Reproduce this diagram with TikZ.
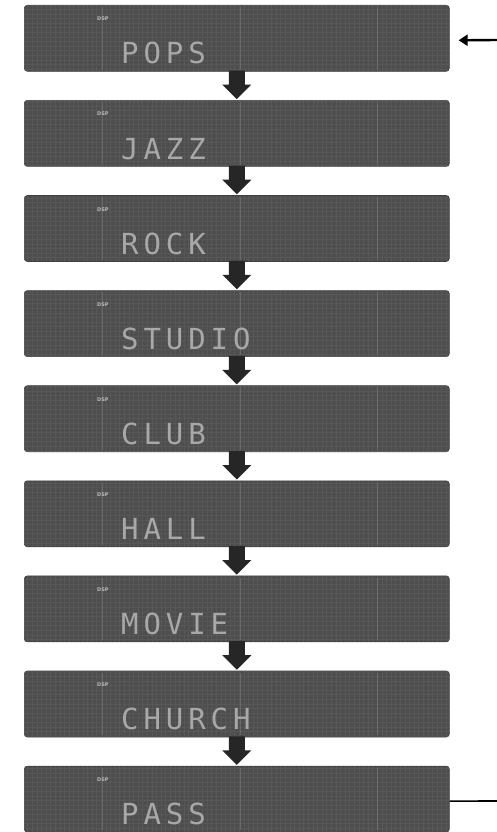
\documentclass[tikz,border=0pt]{standalone}
\usepackage{fontspec}
\usetikzlibrary{calc,arrows.meta}
\newfontfamily\lcdfont[LetterSpace=17]{DejaVu Sans Mono}
\newfontfamily\dspfont{DejaVu Sans}
\definecolor{lcdbg}{HTML}{4E4E4E}
\definecolor{lcdfg}{HTML}{A8A8A8}
\definecolor{lcdline}{HTML}{7A7A7A}
\tikzset{
  lcdbox/.style={draw=lcdbg!80!black, line width=0.6pt, fill=lcdbg, rounded corners=3pt,
    minimum width=425pt, minimum height=66pt, inner sep=0pt, anchor=north west},
  lcdtext/.style={text=lcdfg, inner sep=0pt, anchor=base west,
    font=\lcdfont\fontsize{29}{29}\selectfont},
  dsptext/.style={text=lcdfg!80!white, inner sep=0pt, anchor=west,
    font=\dspfont\bfseries\fontsize{5}{5}\selectfont},
  gridline/.style={white, opacity=0.05, line width=0.5pt},
  segline/.style={lcdline, line width=0.7pt, opacity=0.6},
  fatarrow/.style={fill=black!85},
  sidearrow/.style={line width=2.4pt, -{Triangle[length=9pt,width=11pt]}},
  sideline/.style={line width=1.6pt}
}
\begin{document}
\begin{tikzpicture}[x=1pt,y=-1pt]
\useasboundingbox (0,0) rectangle (497,832);
\fill[white] (0,0) rectangle (497,832);
\foreach \i/\t in {1/POPS,2/JAZZ,3/ROCK,4/STUDIO,5/CLUB,6/HALL,7/MOVIE,8/CHURCH,9/PASS} {
  \node[lcdbox] (b\i) at (24,{5+95.1*(\i-1)}) {};
  \begin{scope}
    \clip[rounded corners=3pt] (b\i.north west) rectangle (b\i.south east);
    \draw[gridline] (b\i.south west) grid[step=4.6pt] (b\i.north east);
    \draw[segline] ($(b\i.north west)+(78,2)$) -- ($(b\i.south west)+(78,-2)$);
    \draw[segline] ($(b\i.north west)+(216,2)$) -- ($(b\i.south west)+(216,-2)$);
    \draw[segline] ($(b\i.north west)+(353,2)$) -- ($(b\i.south west)+(353,-2)$);
  \end{scope}
  \node[dsptext] (d\i) at ($(b\i.north west)+(73,14)$) {DSP};
  \node[lcdtext] (t\i) at ($(b\i.north west)+(97,59)$) {\t};
}
\foreach \i/\j in {1/2,2/3,3/4,4/5,5/6,6/7,7/8,8/9} {
  \fill[fatarrow] ($(b\i.south)+(-8,-1)$) -- ($(b\i.south)+(-8,13)$) -- ($(b\i.south)+(-14.5,13)$)
    -- ($(b\j.north)+(0,-1)$) -- ($(b\i.south)+(14.5,13)$) -- ($(b\i.south)+(8,13)$)
    -- ($(b\i.south)+(8,-1)$) -- cycle;
}
\coordinate (in) at (497,40);
\coordinate (out) at (497,801);
\draw[sidearrow] (in) -- ($(b1.east)+(9,2)$);
\draw[sideline] ($(b9.east)+(0,2)$) -- (out);
\end{tikzpicture}
\end{document}
